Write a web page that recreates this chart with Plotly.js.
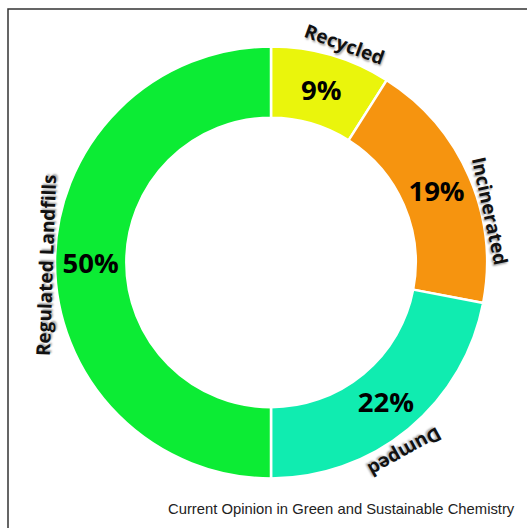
<!DOCTYPE html>
<html>
<head>
<meta charset="utf-8">
<script src="https://cdn.plot.ly/plotly-3.0.1.min.js"></script>
<style>html,body{margin:0;padding:0;background:#fff;}#chart{width:527px;height:528px;}</style>
</head>
<body>
<div id="chart"></div>
<script>
// Data
const categories = ["Recycled", "Incinerated", "Dumped", "Regulated Landfills"];
const shares = [9, 19, 22, 50];
const sliceColors = ["#EAF50C", "#F6940F", "#10ECB0", "#0CEC34"];
const sourceNote = "Current Opinion in Green and Sustainable Chemistry";

const W = 527, H = 528;
const px = x => x / W;
const py = y => 1 - y / H;

const labelFont = {family: "Open Sans, sans-serif", size: 19, color: "#111", weight: 700,
                   shadow: "1.5px 1.5px 2px rgba(0,0,0,0.35)"};

// outside label placements (pixel centres & rotation), in category order
const labelPlacement = [
  {x: 344, y: 44, a: 20},
  {x: 490, y: 211, a: 78},
  {x: 405, y: 452, a: 151},
  {x: 46, y: 265, a: -88}
];

const annotations = categories.map((c, i) => ({
  text: "<b>" + c + "</b>", xref: "paper", yref: "paper",
  x: px(labelPlacement[i].x), y: py(labelPlacement[i].y),
  xanchor: "center", yanchor: "middle", textangle: labelPlacement[i].a,
  showarrow: false, font: labelFont
}));
annotations.push({
  text: sourceNote, xref: "paper", yref: "paper", x: px(517), y: py(509),
  xanchor: "right", yanchor: "middle", showarrow: false,
  font: {family: "Liberation Sans, Arial, sans-serif", size: 14.8, color: "#222"}
});

const trace = {
  type: "pie",
  labels: categories,
  values: shares,
  sort: false,
  direction: "clockwise",
  rotation: 0,
  hole: 0.67,
  marker: {colors: sliceColors, line: {color: "#ffffff", width: 2.5}},
  texttemplate: "%{value}%",
  textposition: "inside",
  insidetextorientation: "horizontal",
  insidetextfont: {family: "Open Sans, sans-serif", size: 27.5, color: "#000", weight: 700},
  domain: {x: [px(271 - 216), px(271 + 216)], y: [py(262.5 + 216), py(262.5 - 216)]},
  hoverinfo: "label+percent"
};

const layout = {
  width: W, height: H,
  margin: {l: 0, r: 0, t: 0, b: 0},
  paper_bgcolor: "#fff",
  showlegend: false,
  annotations: annotations,
  shapes: [{
    type: "rect", xref: "paper", yref: "paper",
    x0: px(8), x1: 1.02, y0: -0.02, y1: py(9),
    line: {color: "#333", width: 1.5}
  }]
};

Plotly.newPlot("chart", [trace], layout, {displayModeBar: false, staticPlot: true});
</script>
</body>
</html>
